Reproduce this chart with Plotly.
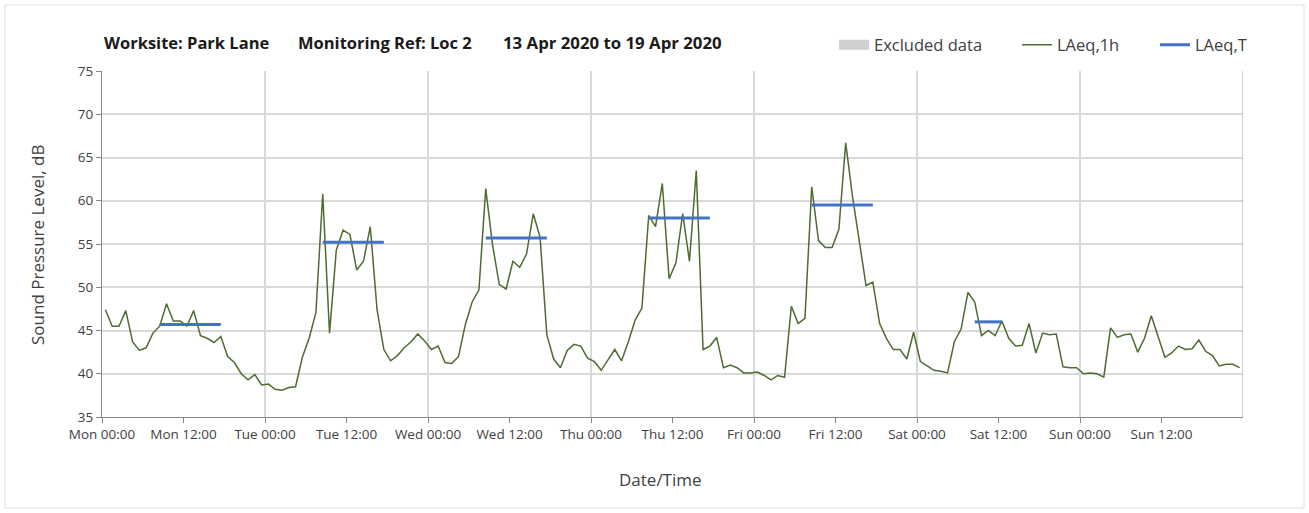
import plotly.graph_objects as go

# ---------------- data ----------------
days = ["Mon", "Tue", "Wed", "Thu", "Fri", "Sat", "Sun"]
tick_times = ["00:00", "12:00"]

# hourly LAeq,1h values (dB), Mon 00:00 .. Sun 23:00
laeq_1h = [
    47.4, 45.5, 45.5, 47.3, 43.7, 42.7, 43.0, 44.7, 45.5, 48.1, 46.1, 46.1,
    45.5, 47.3, 44.4, 44.1, 43.6, 44.3, 42.0, 41.3, 40.0, 39.3, 39.9, 38.7,
    38.8, 38.2, 38.1, 38.4, 38.5, 41.9, 44.1, 47.1, 60.8, 44.7, 54.3, 56.6,
    56.1, 52.0, 53.0, 57.0, 47.4, 42.8, 41.5, 42.1, 43.0, 43.7, 44.6, 43.8,
    42.8, 43.2, 41.3, 41.2, 42.0, 45.7, 48.3, 49.7, 61.4, 54.9, 50.3, 49.8,
    53.0, 52.3, 53.8, 58.5, 55.8, 44.5, 41.7, 40.7, 42.7, 43.4, 43.2, 41.8,
    41.4, 40.4, 41.6, 42.8, 41.5, 43.7, 46.2, 47.6, 58.3, 57.0, 62.0, 51.0,
    52.8, 58.5, 53.0, 63.5, 42.8, 43.2, 44.2, 40.7, 41.0, 40.7, 40.1, 40.1,
    40.2, 39.8, 39.3, 39.8, 39.6, 47.8, 45.8, 46.4, 61.6, 55.4, 54.6, 54.6,
    56.7, 66.7, 60.5, 55.3, 50.2, 50.6, 45.8, 44.1, 42.8, 42.8, 41.7, 44.8,
    41.4, 40.9, 40.4, 40.3, 40.1, 43.7, 45.2, 49.4, 48.3, 44.4, 45.0, 44.4,
    46.1, 44.1, 43.2, 43.3, 45.8, 42.4, 44.7, 44.5, 44.6, 40.8, 40.7, 40.7,
    40.0, 40.1, 40.0, 39.6, 45.3, 44.2, 44.5, 44.6, 42.5, 44.1, 46.7, 44.3,
    41.9, 42.4, 43.2, 42.8, 42.9, 43.9, 42.6, 42.1, 40.9, 41.1, 41.1, 40.7,
]

# LAeq,T per monitoring period
laeq_t_days = ["Mon", "Tue", "Wed", "Thu", "Fri", "Sat"]
laeq_t_values = [45.7, 55.2, 55.7, 58.0, 59.5, 46.0]
laeq_t_start_hour = [8, 8, 8, 8, 8, 8]
laeq_t_end_hour = [18, 18, 18, 18, 18, 13]

# ---------------- build series ----------------
hours_x = [h + 0.5 for h in range(len(laeq_1h))]

t_x, t_y = [], []
for d, v, s, e in zip(laeq_t_days, laeq_t_values, laeq_t_start_hour, laeq_t_end_hour):
    base = days.index(d) * 24
    for h in range(s, e):
        t_x.append(base + h + 0.5)
        t_y.append(v)
    t_x.append(None)
    t_y.append(None)

tickvals = [i * 12 for i in range(len(days) * 2)]
ticktext = [f"{d} {t}" for d in days for t in tick_times]
day_lines = [i * 24 for i in range(len(days) + 1)]

FONT = "Open Sans"
TXT = "#404040"
AX = "#868686"
GRID = "#d9d9d9"

fig = go.Figure()
fig.add_trace(go.Scatter(x=[None], y=[None], mode="lines", name="Excluded data",
                         line=dict(color="#d0d0d0", width=10), legend="legend"))
fig.add_trace(go.Scatter(x=hours_x, y=laeq_1h, mode="lines", name="LAeq,1h",
                         line=dict(color="#4f6b2f", width=1.5), legend="legend2"))
fig.add_trace(go.Scatter(x=t_x, y=t_y, mode="lines", name="LAeq,T",
                         line=dict(color="#4472c4", width=3), connectgaps=False,
                         legend="legend3"))

W, H = 1309, 513
L, R, T, B = 102, 66, 71, 96
pw, ph = W - L - R, H - T - B


def px(x):
    return (x - L) / pw


def py(y):
    return (H - B - y) / ph


leg_common = dict(orientation="h", yanchor="middle", xanchor="left",
                  font=dict(family=FONT, size=16.5, color=TXT),
                  bgcolor="rgba(0,0,0,0)", borderwidth=0)

fig.update_layout(
    width=W, height=H,
    margin=dict(l=L, r=R, t=T, b=B),
    paper_bgcolor="white", plot_bgcolor="white",
    font=dict(family=FONT, color=TXT),
    showlegend=True,
    legend=dict(x=px(834), y=py(45), **leg_common),
    legend2=dict(x=px(1017), y=py(45), **leg_common),
    legend3=dict(x=px(1155), y=py(45), **leg_common),
    xaxis=dict(
        range=[0, 168], tickmode="array", tickvals=tickvals, ticktext=ticktext,
        ticks="outside", ticklen=5, tickcolor=AX, showline=True, linecolor=AX,
        linewidth=1, showgrid=False, zeroline=False,
        tickfont=dict(family=FONT, size=13.5, color=TXT),
        minor=dict(tickmode="array", tickvals=day_lines, showgrid=True,
                   gridcolor=GRID, gridwidth=1.5, ticks=""),
    ),
    yaxis=dict(
        range=[35, 75], dtick=5, ticks="outside", ticklen=5, tickcolor=AX,
        showline=True, linecolor=AX, linewidth=1, gridcolor=GRID, gridwidth=1.5,
        zeroline=False, tickfont=dict(family=FONT, size=13.5, color=TXT),
    ),
    shapes=[
        dict(type="line", xref="x", yref="paper", x0=168, x1=168, y0=0, y1=1,
             line=dict(color="#a6a6a6", width=1)),
        dict(type="rect", xref="paper", yref="paper", x0=px(5), x1=px(1304),
             y0=py(508), y1=py(5), line=dict(color="#e0e0e0", width=1),
             layer="below"),
    ],
    annotations=[
        dict(text="<b>Worksite: Park Lane</b>", x=px(102), y=py(42), xref="paper",
             yref="paper", xanchor="left", yanchor="middle", showarrow=False,
             font=dict(family=FONT, size=16.5, color="#1a1a1a")),
        dict(text="<b>Monitoring Ref: Loc 2</b>", x=px(296), y=py(42), xref="paper",
             yref="paper", xanchor="left", yanchor="middle", showarrow=False,
             font=dict(family=FONT, size=16.5, color="#1a1a1a")),
        dict(text="<b>13 Apr 2020 to 19 Apr 2020</b>", x=px(501), y=py(42),
             xref="paper", yref="paper", xanchor="left", yanchor="middle",
             showarrow=False, font=dict(family=FONT, size=16.8, color="#1a1a1a")),
        dict(text="Sound Pressure Level, dB", x=px(37), y=py(245), xref="paper",
             yref="paper", xanchor="center", yanchor="middle", textangle=-90,
             showarrow=False, font=dict(family=FONT, size=17, color=TXT)),
        dict(text="Date/Time", x=px(660), y=py(479), xref="paper", yref="paper",
             xanchor="center", yanchor="middle", showarrow=False,
             font=dict(family=FONT, size=17, color=TXT)),
    ],
)

fig.write_html(
    "out.html",
    config={"displayModeBar": False},
    post_script="document.body.style.margin='0';document.body.style.overflow='hidden';",
)
